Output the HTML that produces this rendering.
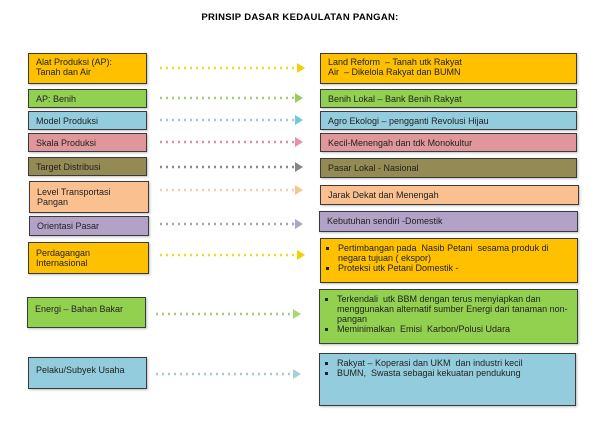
<!DOCTYPE html>
<html><head><style>
body{margin:0;width:600px;height:433px;background:#fff;position:relative;overflow:hidden;font-family:"Liberation Sans",sans-serif;}
.b{position:absolute;box-sizing:border-box;border:1.5px solid #3a3a3a;font-size:9px;line-height:10px;color:#222;padding:4px 7px 3px;box-shadow:1px 1px 2px rgba(0,0,0,.25);}
.y{background:#ffc000}.g{background:#92d050}.bl{background:#93cddd}.p{background:#e0979b}.o{background:#948a54}.pe{background:#fac090}.l{background:#b3a2c7}
ul{margin:0;padding-left:10px;list-style:square}li{margin:0}
.t{position:absolute;top:12px;left:0;width:600px;text-align:center;font-weight:bold;font-size:9.5px;letter-spacing:.3px}
</style></head><body>
<div class="t">PRINSIP DASAR KEDAULATAN PANGAN:</div>
<div class="b y" style="left:28px;top:53px;width:119px;height:31px;padding-top:3px">Alat Produksi (AP):<br>Tanah dan Air</div>
<div class="b g" style="left:28px;top:89px;width:119px;height:19px">AP: Benih</div>
<div class="b bl" style="left:28px;top:111px;width:119px;height:19px">Model Produksi</div>
<div class="b p" style="left:28px;top:133px;width:119px;height:19px">Skala Produksi</div>
<div class="b o" style="left:28px;top:157px;width:119px;height:19px">Target Distribusi</div>
<div class="b pe" style="left:29px;top:181px;width:120px;height:32px;padding-top:5px">Level Transportasi<br>Pangan</div>
<div class="b l" style="left:29px;top:216px;width:120px;height:20px">Orientasi Pasar</div>
<div class="b y" style="left:28px;top:242px;width:121px;height:32px;padding-top:5px">Perdagangan<br>Internasional</div>
<div class="b g" style="left:27px;top:297px;width:119px;height:31px;padding-top:6px">Energi – Bahan Bakar</div>
<div class="b bl" style="left:28px;top:357px;width:119px;height:32px;padding-top:7px">Pelaku/Subyek Usaha</div>

<div class="b y" style="left:320px;top:53px;width:257px;height:31px;padding-top:3px">Land Reform &nbsp;– Tanah utk Rakyat<br>Air &nbsp;– Dikelola Rakyat dan BUMN</div>
<div class="b g" style="left:320px;top:89px;width:257px;height:19px">Benih Lokal – Bank Benih Rakyat</div>
<div class="b bl" style="left:320px;top:111px;width:257px;height:19px">Agro Ekologi – pengganti Revolusi Hijau</div>
<div class="b p" style="left:320px;top:133px;width:257px;height:19px">Kecil-Menengah dan tdk Monokultur</div>
<div class="b o" style="left:320px;top:158px;width:257px;height:20px">Pasar Lokal - Nasional</div>
<div class="b pe" style="left:320px;top:185px;width:259px;height:20px">Jarak Dekat dan Menengah</div>
<div class="b l" style="left:319px;top:211px;width:259px;height:21px">Kebutuhan sendiri -Domestik</div>
<div class="b y" style="left:320px;top:238px;width:258px;height:45px"><ul><li>Pertimbangan pada &nbsp;Nasib Petani &nbsp;sesama produk di negara tujuan ( ekspor)</li><li>Proteksi utk Petani Domestik -</li></ul></div>
<div class="b g" style="left:319px;top:289px;width:259px;height:55px;padding-top:4px"><ul><li>Terkendali &nbsp;utk BBM dengan terus menyiapkan dan menggunakan alternatif sumber Energi dari tanaman non-pangan</li><li>Meminimalkan &nbsp;Emisi &nbsp;Karbon/Polusi Udara</li></ul></div>
<div class="b bl" style="left:319px;top:353px;width:257px;height:53px;padding-top:4px"><ul><li>Rakyat – Koperasi dan UKM &nbsp;dan industri kecil</li><li>BUMN, &nbsp;Swasta sebagai kekuatan pendukung</li></ul></div>

<svg width="600" height="433" style="position:absolute;left:0;top:0">
<g stroke-width="2.5" stroke-dasharray="2 4">
<line x1="160" y1="68" x2="298" y2="68" stroke="#e8e020"/>
<line x1="160" y1="98" x2="296" y2="98" stroke="#a8cc70"/>
<line x1="160" y1="120" x2="296" y2="120" stroke="#9ccdd8"/>
<line x1="160" y1="142" x2="296" y2="142" stroke="#d890a8"/>
<line x1="160" y1="167" x2="296" y2="167" stroke="#888"/>
<line x1="160" y1="190" x2="296" y2="190" stroke="#f0d0a8"/>
<line x1="160" y1="224" x2="296" y2="224" stroke="#a8a0c0"/>
<line x1="160" y1="255" x2="298" y2="255" stroke="#e8e020"/>
<line x1="156" y1="314" x2="294" y2="314" stroke="#a8c890"/>
<line x1="156" y1="374" x2="294" y2="374" stroke="#a8c8d0"/>
</g>
<g>
<polygon points="297,63 305,68 297,73" fill="#f0d000"/>
<polygon points="295,93 303,98 295,103" fill="#9ccc60"/>
<polygon points="295,115 303,120 295,125" fill="#70c8d8"/>
<polygon points="295,137 303,142 295,147" fill="#e890b0"/>
<polygon points="295,162 303,167 295,172" fill="#888"/>
<polygon points="295,185 303,190 295,195" fill="#f0c890"/>
<polygon points="295,219 303,224 295,229" fill="#a8a8c0"/>
<polygon points="297,250 305,255 297,260" fill="#f0d000"/>
<polygon points="293,309 301,314 293,319" fill="#a8d870"/>
<polygon points="293,369 301,374 293,379" fill="#a8d0dc"/>
</g>
</svg>
</body></html>
